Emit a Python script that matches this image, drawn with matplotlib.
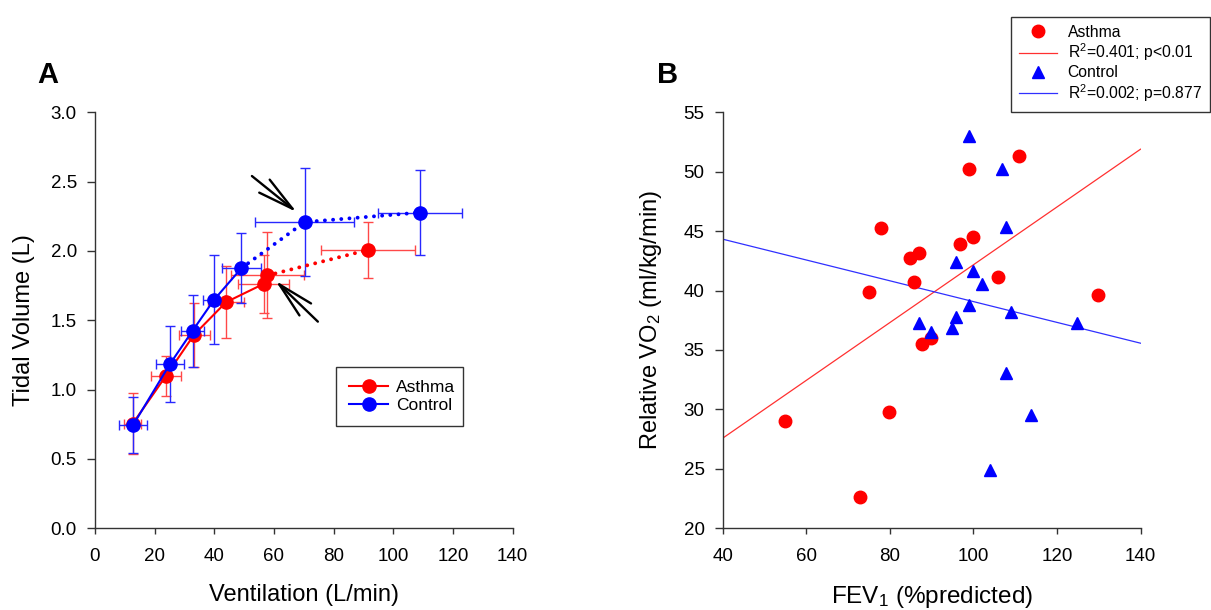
'''
panel A: tidal volume vs ventilation (asthma vs control)
panel B: relative VO2 vs FEV1 with regression lines
'''
import matplotlib
matplotlib.use('Agg')
import matplotlib.pyplot as plt
from matplotlib.lines import Line2D

plt.rcParams['font.family'] = ['Liberation Sans', 'DejaVu Sans']
plt.rcParams['mathtext.fontset'] = 'custom'
plt.rcParams['mathtext.rm'] = 'Liberation Sans'
plt.rcParams['mathtext.it'] = 'Liberation Sans:italic'
plt.rcParams['mathtext.bf'] = 'Liberation Sans:bold'

# panel A data
aVent = [12.6, 23.8, 33.2, 43.9, 56.6, 57.8, 91.6]
aVt = [0.753, 1.099, 1.395, 1.63, 1.763, 1.823, 2.008]
aVentErr = [3.0, 5.0, 5.2, 6.0, 8.5, 12.2, 15.8]
aVtErr = [0.22, 0.143, 0.23, 0.26, 0.21, 0.31, 0.204]

cVent = [12.8, 25.1, 32.7, 39.9, 49.1, 70.3, 109.0]
cVt = [0.745, 1.183, 1.424, 1.647, 1.876, 2.208, 2.277]
cVentErr = [4.8, 4.6, 3.9, 3.8, 6.4, 16.5, 14.0]
cVtErr = [0.2, 0.276, 0.26, 0.32, 0.25, 0.387, 0.31]

# number of points joined by the solid line (rest dotted)
aSolid = 6
cSolid = 5

# arrows (tail, tip) in data units
arrows = [((52.6, 2.54), (67.6, 2.28)),
          ((74.7, 1.49), (60.5, 1.785))]

# panel B data
asthmaFev = [54.9, 72.9, 74.9, 77.9, 79.9, 84.8, 86.9, 85.9, 87.8, 89.8,
             96.9, 98.9, 99.8, 105.9, 110.9, 129.9]
asthmaVo2 = [29.03, 22.64, 39.91, 45.24, 29.82, 42.77, 43.14, 40.76, 35.51, 35.99,
             43.92, 50.23, 44.54, 41.15, 51.35, 39.63]
controlFev = [99.0, 106.9, 107.9, 95.8, 99.8, 102.0, 98.9, 109.0, 124.9, 86.9,
              89.8, 95.8, 94.9, 107.9, 113.8, 104.0]
controlVo2 = [53.04, 50.23, 45.38, 42.38, 41.62, 40.53, 38.82, 38.2, 37.31, 37.31,
              36.49, 37.76, 36.89, 33.04, 29.54, 24.91]
fitX = [40, 140]
asthmaFit = [27.58, 51.89]
controlFit = [44.32, 35.57]

axCol = '#333333'
dots = (0, (0.01, 2.1))

fig = plt.figure(figsize=(12.11, 6.10), dpi=100)
axA = fig.add_axes([0.0784, 0.134, 0.345, 0.682])
axB = fig.add_axes([0.5968, 0.134, 0.345, 0.682])

for ax in (axA, axB):
    for s in ('top', 'right'):
        ax.spines[s].set_visible(False)
    for s in ('left', 'bottom'):
        ax.spines[s].set_color(axCol)
        ax.spines[s].set_linewidth(1.0)
    ax.tick_params(axis='both', colors=axCol, labelcolor='black', labelsize=13.5, width=1.0)
    ax.tick_params(axis='y', length=6, pad=7)
    ax.tick_params(axis='x', length=4, pad=10)

# ---- panel A ----
axA.errorbar(aVent, aVt, xerr=aVentErr, yerr=aVtErr, fmt='none', ecolor='#ff4848',
             elinewidth=1.0, capsize=3.5, capthick=1.0, zorder=2)
axA.errorbar(cVent, cVt, xerr=cVentErr, yerr=cVtErr, fmt='none', ecolor='#2828ff',
             elinewidth=1.0, capsize=3.5, capthick=1.0, zorder=3)

axA.plot(aVent[aSolid - 1:], aVt[aSolid - 1:], color='red', ls=dots, lw=2.8,
         dash_capstyle='round', zorder=4)
axA.plot(aVent[:aSolid], aVt[:aSolid], color='red', lw=1.5, marker='o', ms=9.5,
         label='Asthma', zorder=5)
axA.plot(aVent[aSolid:], aVt[aSolid:], color='red', ls='none', marker='o', ms=9.5, zorder=5)

axA.plot(cVent[cSolid - 1:], cVt[cSolid - 1:], color='blue', ls=dots, lw=2.8,
         dash_capstyle='round', zorder=6)
axA.plot(cVent[:cSolid], cVt[:cSolid], color='blue', lw=1.5, marker='o', ms=9.5,
         label='Control', zorder=7)
axA.plot(cVent[cSolid:], cVt[cSolid:], color='blue', ls='none', marker='o', ms=9.5, zorder=7)

for tail, tip in arrows:
    axA.annotate('', xy=tip, xytext=tail,
                 arrowprops=dict(arrowstyle='->, head_length=1.3, head_width=0.3',
                                 color='black', lw=1.7, mutation_scale=20,
                                 shrinkA=0, shrinkB=0), zorder=8)

axA.set_xlim(0, 140)
axA.set_ylim(0, 3.0)
axA.set_xticks(range(0, 141, 20))
axA.set_yticks([0.0, 0.5, 1.0, 1.5, 2.0, 2.5, 3.0])
axA.set_yticklabels(['0.0', '0.5', '1.0', '1.5', '2.0', '2.5', '3.0'])
axA.set_xlabel('Ventilation (L/min)', fontsize=17, labelpad=14)
axA.set_ylabel('Tidal Volume (L)', fontsize=17, labelpad=11)

legA = axA.legend(loc='lower left', bbox_to_anchor=(0.578, 0.246, 0.303, 0.142),
                  mode='expand', fontsize=12.5, handlelength=2.2, handletextpad=0.5,
                  labelspacing=0.15, borderpad=0.75, fancybox=False, framealpha=1,
                  edgecolor=axCol, borderaxespad=0)
legA.get_frame().set_linewidth(1.0)

# ---- panel B ----
axB.plot(fitX, asthmaFit, color='#ff3030', lw=0.9, zorder=2)
axB.plot(fitX, controlFit, color='#3030ff', lw=0.9, zorder=2)
axB.plot(asthmaFev, asthmaVo2, ls='none', marker='o', ms=9, color='red', zorder=3)
axB.plot(controlFev, controlVo2, ls='none', marker='^', ms=9, color='blue', zorder=3)

axB.set_xlim(40, 140)
axB.set_ylim(20, 55)
axB.set_xticks(range(40, 141, 20))
axB.set_yticks(range(20, 56, 5))
axB.set_xlabel('FEV$_1$ (%predicted)', fontsize=17.5, labelpad=14)
axB.set_ylabel('Relative VO$_2$ (ml/kg/min)', fontsize=17, labelpad=14)

hB = [Line2D([], [], ls='none', marker='o', ms=9, color='red'),
      Line2D([], [], color='#ff3030', lw=0.9),
      Line2D([], [], ls='none', marker='^', ms=9, color='blue'),
      Line2D([], [], color='#3030ff', lw=0.9)]
lB = ['Asthma', 'R$^2$=0.401; p<0.01', 'Control', 'R$^2$=0.002; p=0.877']
legB = axB.legend(hB, lB, loc='lower left', bbox_to_anchor=(0.69, 1.0015, 0.476, 0.237),
                  mode='expand', fontsize=11.3, handlelength=2.4, handletextpad=0.7,
                  labelspacing=0.12, borderpad=0.5, fancybox=False, framealpha=1,
                  edgecolor=axCol, borderaxespad=0)
legB.get_frame().set_linewidth(1.0)

fig.text(0.0397, 0.877, 'A', fontsize=21, fontweight='bold', ha='center', va='center')
fig.text(0.5516, 0.877, 'B', fontsize=21, fontweight='bold', ha='center', va='center')

fig.savefig('out.png', dpi=100)
